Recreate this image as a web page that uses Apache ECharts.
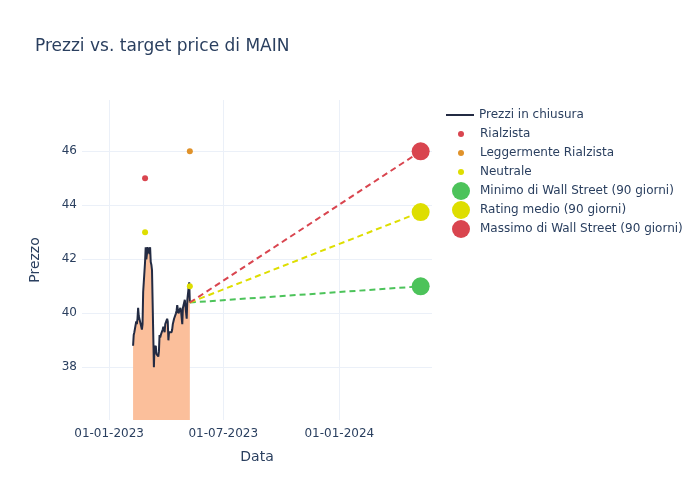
<!DOCTYPE html>
<html>
<head>
<meta charset="utf-8">
<script src="https://cdn.jsdelivr.net/npm/echarts@6/dist/echarts.min.js"></script>
<style>html,body{margin:0;padding:0;background:#fff;}#chart{width:700px;height:500px;}</style>
</head>
<body>
<div id="chart"></div>
<script>
const dates = [
'2023-02-08','2023-02-09','2023-02-10','2023-02-13','2023-02-14','2023-02-15','2023-02-16','2023-02-17',
'2023-02-21','2023-02-22','2023-02-23','2023-02-24','2023-02-27','2023-02-28',
'2023-03-01','2023-03-02','2023-03-03','2023-03-06','2023-03-07','2023-03-08','2023-03-09','2023-03-10',
'2023-03-13','2023-03-14','2023-03-15','2023-03-16','2023-03-17','2023-03-20','2023-03-21','2023-03-22',
'2023-03-23','2023-03-24','2023-03-27','2023-03-28','2023-03-29','2023-03-30','2023-03-31',
'2023-04-03','2023-04-04','2023-04-05','2023-04-06','2023-04-10','2023-04-11','2023-04-12','2023-04-13',
'2023-04-14','2023-04-17','2023-04-18','2023-04-19','2023-04-20','2023-04-21','2023-04-24','2023-04-25',
'2023-04-26','2023-04-27','2023-04-28',
'2023-05-01','2023-05-02','2023-05-03','2023-05-04','2023-05-05','2023-05-08','2023-05-09'
];
const closePrices = [
38.8,39.2,39.3,39.7,39.6,39.8,40.2,39.9,
39.5,39.4,39.6,40.8,41.9,42.45,
42.0,42.2,42.45,42.2,42.45,41.9,41.8,41.6,
38.0,38.8,38.6,38.8,38.5,38.4,38.6,39.2,
39.1,39.2,39.4,39.5,39.4,39.3,39.6,
39.8,39.7,39.0,39.3,39.3,39.4,39.6,39.7,
39.8,40.0,40.1,40.3,40.3,40.0,40.2,40.1,
40.1,39.6,40.2,
40.5,40.5,40.5,39.8,40.5,41.15,40.4
];
const rialzista = [['2023-02-27', 45]];
const leggermenteRialzista = [['2023-05-09', 46]];
const neutrale = [['2023-02-27', 43], ['2023-05-09', 41]];
const targetDate = '2024-05-09';
const wsMin = 41.0;
const wsMean = 43.75;
const wsMax = 46.0;
const xTicks = ['2023-01-01', '2023-07-01', '2024-01-01'];
const yTicks = [38, 40, 42, 44, 46];

const ts = s => new Date(s + 'T00:00:00').getTime();
const pts = arr => arr.map(p => [ts(p[0]), p[1]]);
const lastDate = dates[dates.length - 1];
const lastPrice = closePrices[closePrices.length - 1];
const priceData = dates.map((d, i) => [ts(d), closePrices[i]]);

const RED = '#d9454f', ORANGE = '#e0922a', YELLOW = '#dede00', GREEN = '#4cc35a';
const TXT = '#2a3f5f';
const FONT = 'DejaVu Sans';
const legendText = { fontFamily: FONT, fontSize: 12, color: TXT };

const chart = echarts.init(document.getElementById('chart'));
chart.setOption({
  animation: false,
  backgroundColor: '#fff',
  textStyle: { fontFamily: FONT },
  title: {
    text: 'Prezzi vs. target price di MAIN',
    left: 30, top: 33,
    textStyle: { fontFamily: FONT, fontSize: 17, fontWeight: 'normal', color: TXT }
  },
  grid: { left: 82, right: 268, top: 100, bottom: 80, containLabel: false },
  legend: [
    {
      orient: 'vertical', left: 441, top: 104,
      itemWidth: 28, itemHeight: 6, itemGap: 7,
      textStyle: legendText,
      data: [{ name: 'Prezzi in chiusura', icon: 'path://M0,0 L28,0 L28,2 L0,2 Z' }]
    },
    {
      orient: 'vertical', left: 453, top: 123,
      itemWidth: 28, itemHeight: 6, itemGap: 7,
      textStyle: legendText,
      data: ['Rialzista', 'Leggermente Rialzista', 'Neutrale']
    },
    {
      orient: 'vertical', left: 447, top: 177,
      itemWidth: 28, itemHeight: 18, itemGap: 1,
      textStyle: legendText,
      data: ['Minimo di Wall Street (90 giorni)', 'Rating medio (90 giorni)', 'Massimo di Wall Street (90 giorni)']
    }
  ],
  xAxis: {
    type: 'value',
    min: ts('2022-11-19'), max: ts('2024-05-27'),
    name: 'Data', nameLocation: 'middle', nameGap: 30,
    nameTextStyle: { fontFamily: FONT, fontSize: 14, color: TXT },
    axisLine: { show: false },
    axisTick: { show: false, customValues: xTicks.map(ts) },
    axisLabel: {
      customValues: xTicks.map(ts),
      hideOverlap: false,
      color: TXT, fontSize: 12, fontFamily: FONT, margin: 8,
      formatter: v => { const d = new Date(v); const p = n => String(n).padStart(2, '0'); return p(d.getDate()) + '-' + p(d.getMonth() + 1) + '-' + d.getFullYear(); }
    },
    splitLine: { show: true, lineStyle: { color: '#ebf0f8', width: 1 } }
  },
  yAxis: {
    type: 'value',
    min: 36.05, max: 47.9,
    name: 'Prezzo', nameLocation: 'middle', nameGap: 40,
    nameTextStyle: { fontFamily: FONT, fontSize: 14, color: TXT },
    axisLine: { show: false },
    axisTick: { show: false, customValues: yTicks },
    axisLabel: { customValues: yTicks, color: TXT, fontSize: 12, fontFamily: FONT, margin: 5 },
    splitLine: { show: true, lineStyle: { color: '#ebf0f8', width: 1 } }
  },
  series: [
    {
      name: 'Prezzi in chiusura', type: 'line', data: priceData,
      showSymbol: false, symbol: 'none',
      lineStyle: { color: '#232b43', width: 2 },
      itemStyle: { color: '#232b43' },
      areaStyle: { color: '#fbbf9b', opacity: 1, origin: 'start' },
      z: 2
    },
    {
      name: 'min_line', type: 'line', data: pts([[lastDate, lastPrice], [targetDate, wsMin]]),
      showSymbol: false, symbol: 'none', lineStyle: { color: GREEN, width: 2, type: [6, 4] }, z: 3
    },
    {
      name: 'mean_line', type: 'line', data: pts([[lastDate, lastPrice], [targetDate, wsMean]]),
      showSymbol: false, symbol: 'none', lineStyle: { color: YELLOW, width: 2, type: [6, 4] }, z: 3
    },
    {
      name: 'max_line', type: 'line', data: pts([[lastDate, lastPrice], [targetDate, wsMax]]),
      showSymbol: false, symbol: 'none', lineStyle: { color: RED, width: 2, type: [6, 4] }, z: 3
    },
    { name: 'Rialzista', type: 'scatter', data: pts(rialzista), symbolSize: 6, itemStyle: { color: RED, opacity: 1 }, z: 4 },
    { name: 'Leggermente Rialzista', type: 'scatter', data: pts(leggermenteRialzista), symbolSize: 6, itemStyle: { color: ORANGE, opacity: 1 }, z: 4 },
    { name: 'Neutrale', type: 'scatter', data: pts(neutrale), symbolSize: 6, itemStyle: { color: YELLOW, opacity: 1 }, z: 4 },
    { name: 'Minimo di Wall Street (90 giorni)', type: 'scatter', data: pts([[targetDate, wsMin]]), symbolSize: 18, itemStyle: { color: GREEN, opacity: 1 }, z: 5 },
    { name: 'Rating medio (90 giorni)', type: 'scatter', data: pts([[targetDate, wsMean]]), symbolSize: 18, itemStyle: { color: YELLOW, opacity: 1 }, z: 5 },
    { name: 'Massimo di Wall Street (90 giorni)', type: 'scatter', data: pts([[targetDate, wsMax]]), symbolSize: 18, itemStyle: { color: RED, opacity: 1 }, z: 5 }
  ]
});
</script>
</body>
</html>
